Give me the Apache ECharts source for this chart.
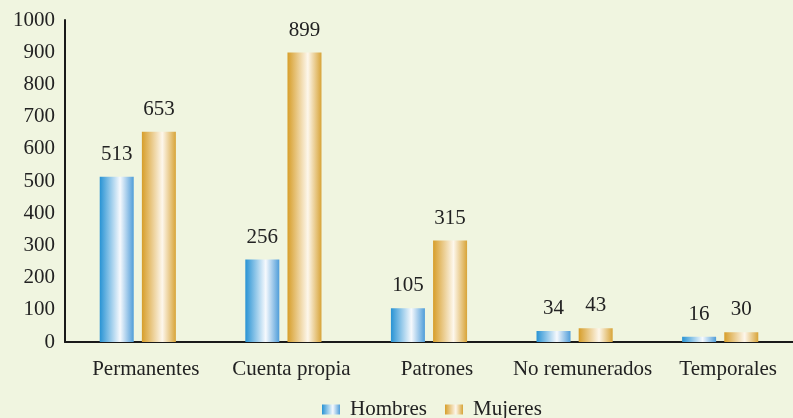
<!DOCTYPE html>
<html>
<head>
<meta charset="utf-8">
<script src="https://cdn.jsdelivr.net/npm/echarts@6/dist/echarts.min.js"></script>
<style>
  html, body { margin: 0; padding: 0; background: #f0f5e0; }
  #chart { width: 793px; height: 418px; }
</style>
</head>
<body>
<div id="chart"></div>
<script>
// Ocupados por categoría ocupacional
const categories = ['Permanentes', 'Cuenta propia', 'Patrones', 'No remunerados', 'Temporales'];
const hombres = [513, 256, 105, 34, 16];
const mujeres = [653, 899, 315, 43, 30];
const seriesNames = ['Hombres', 'Mujeres'];

const FONT = '"Liberation Serif", "Times New Roman", serif';
const FS = 21;

function barGradient(edgeL, mid, edgeR) {
  return new echarts.graphic.LinearGradient(0, 0, 1, 0, [
    { offset: 0, color: edgeL },
    { offset: 0.6, color: mid },
    { offset: 1, color: edgeR }
  ]);
}

const blue = barGradient('#2893d4', '#f6f9fd', '#4f9dd9');
const gold = barGradient('#d79e2a', '#fdf7ec', '#d8a438');

const labelStyle = {
  show: true,
  position: 'top',
  distance: 12,
  fontFamily: FONT,
  fontSize: FS,
  color: '#222'
};

const chart = echarts.init(document.getElementById('chart'));
chart.setOption({
  backgroundColor: '#f0f5e0',
  animation: false,
  textStyle: { fontFamily: FONT },
  grid: { left: 65, right: -2, top: 20, bottom: 76, containLabel: false },
  legend: {
    bottom: -2,
    left: 322,
    padding: 0,
    icon: 'rect',
    itemWidth: 18,
    itemHeight: 10,
    itemGap: 18,
    textStyle: { fontFamily: FONT, fontSize: FS, color: '#222', padding: [0, 0, 0, 5] },
    data: seriesNames
  },
  xAxis: {
    type: 'category',
    data: categories,
    axisLine: { lineStyle: { color: '#1a1a1a', width: 2 } },
    axisTick: { show: false },
    axisLabel: {
      interval: 0,
      fontFamily: FONT, fontSize: FS, color: '#222', margin: 17,
      padding: [0, 0, 0, 16]
    }
  },
  yAxis: {
    type: 'value',
    min: 0,
    max: 1000,
    interval: 100,
    axisLine: { show: true, lineStyle: { color: '#1a1a1a', width: 2 } },
    axisTick: { show: false },
    splitLine: { show: false },
    axisLabel: {
      fontFamily: FONT, fontSize: FS, color: '#222', margin: 10,
      formatter: v => String(v)
    }
  },
  series: [
    {
      name: seriesNames[0],
      type: 'bar',
      data: hombres,
      barWidth: 34,
      barGap: '24%',
      itemStyle: { color: blue },
      label: labelStyle
    },
    {
      name: seriesNames[1],
      type: 'bar',
      data: mujeres,
      barWidth: 34,
      itemStyle: { color: gold },
      label: labelStyle
    }
  ]
});
</script>
</body>
</html>
